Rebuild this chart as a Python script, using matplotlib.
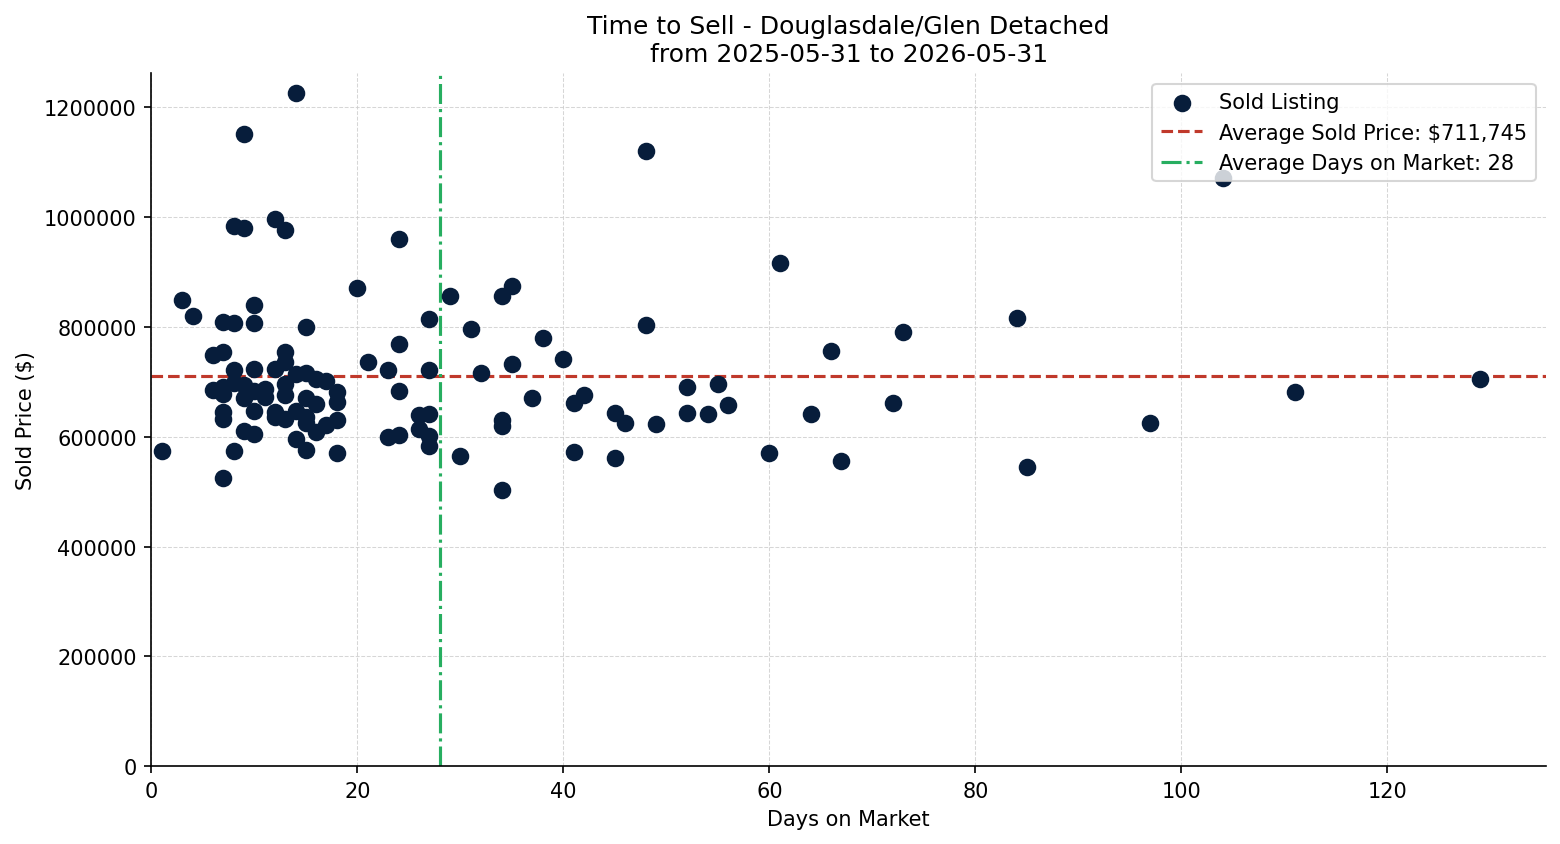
import matplotlib
matplotlib.use("Agg")
import matplotlib.pyplot as plt

# days on market / sold price
days = [1, 3, 4, 6, 6, 7, 7, 7, 7, 7, 7, 7,
        8, 8, 8, 8, 8, 9, 9, 9, 9, 9,
        10, 10, 10, 10, 10, 10, 11, 11, 12, 12, 12, 12,
        13, 13, 13, 13, 13, 13, 14, 14, 14, 14,
        15, 15, 15, 15, 15, 15, 16, 16, 16, 17, 17, 18, 18, 18, 18,
        20, 21, 23, 23, 24, 24, 24, 24, 26, 26, 27, 27, 27, 27, 27,
        29, 30, 31, 32, 34, 34, 34, 34, 35, 35, 37, 38, 40, 41, 41, 42,
        45, 45, 46, 48, 48, 49, 52, 52, 54, 55, 56, 60, 61, 64, 66, 67,
        72, 73, 84, 85, 97, 104, 111, 129]
prices = [575000, 850000, 821000, 750000, 685000, 810000, 755000, 690000, 678000, 645000, 632000, 525000,
          985000, 808000, 722000, 698000, 574000, 1151000, 980000, 694000, 670000, 610000,
          840000, 808000, 723000, 683000, 648000, 605000, 687000, 672000, 996000, 723000, 645000, 636000,
          976000, 754000, 736000, 696000, 676000, 632000, 1226000, 714000, 648000, 596000,
          800000, 716000, 670000, 636000, 625000, 576000, 705000, 659000, 608000, 701000, 621000, 681000, 663000, 630000, 570000,
          872000, 736000, 721000, 599000, 960000, 770000, 683000, 603000, 639000, 614000, 814000, 721000, 641000, 601000, 583000,
          856000, 565000, 796000, 717000, 857000, 630000, 620000, 504000, 874000, 732000, 670000, 781000, 741000, 661000, 572000, 676000,
          643000, 561000, 625000, 1120000, 803000, 623000, 690000, 643000, 641000, 696000, 658000, 570000, 916000, 641000, 756000, 556000,
          661000, 791000, 816000, 545000, 625000, 1071000, 681000, 705000]

avg_price = 711745
avg_days = 28

fig, ax = plt.subplots(figsize=(10.4, 5.633), dpi=150)
fig.subplots_adjust(left=0.097, right=0.991, top=0.912, bottom=0.092)

ax.scatter(days, prices, s=55, color="#071d3b", label="Sold Listing", zorder=3)
ax.axhline(avg_price, color="#c0392b", linestyle="--", linewidth=1.5,
           label=f"Average Sold Price: ${avg_price:,}")
ax.axvline(avg_days, color="#27ae60", linestyle="-.", linewidth=1.5,
           label=f"Average Days on Market: {avg_days}")

ax.set_xlim(left=0)
ax.set_ylim(bottom=0)
ax.ticklabel_format(axis="y", style="plain", useOffset=False)

ax.set_title("Time to Sell - Douglasdale/Glen Detached\nfrom 2025-05-31 to 2026-05-31")
ax.set_xlabel("Days on Market")
ax.set_ylabel("Sold Price ($)")
ax.grid(True, linestyle="--", linewidth=0.5, color="#cccccc", alpha=0.8)
ax.spines["top"].set_visible(False)
ax.spines["right"].set_visible(False)
ax.legend(loc="upper right")

fig.savefig("out.png", dpi=150)
